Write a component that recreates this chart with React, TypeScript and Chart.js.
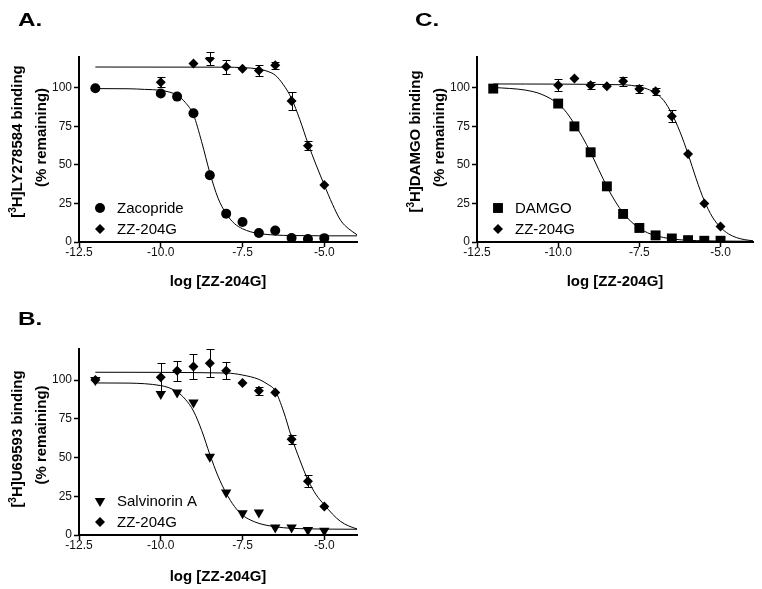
import React, { useEffect, useRef } from 'react';
import { Chart, registerables } from 'chart.js';

Chart.register(...registerables);

const FONT = '"Liberation Sans", Arial, Helvetica, sans-serif';

// ---- shared axis ticks ----
const xTickValues = [-12.5, -10, -7.5, -5];
const yTickValues = [0, 25, 50, 75, 100];
const xAxisTitle = 'log [ZZ-204G]';
const yTitleLine2 = '(% remaining)';

// ---- Panel A: [3H]LY278584 ----
const aZacX = [-12, -10, -9.5, -9, -8.5, -8, -7.5, -7, -6.5, -6, -5.5, -5];
const aZacY = [99.7, 96.3, 94.3, 83.5, 43.3, 18.4, 13, 5.8, 7.5, 2.6, 2, 2.5];
const aZzX = [-10, -9, -8.5, -8, -7.5, -7, -6.5, -6, -5.5, -5];
const aZzY = [103.6, 115.8, 119, 113.6, 112.3, 111.2, 114.7, 91.5, 62.5, 37];
const aZzErr = [3.3, 0, 4.3, 4.5, 0, 3.5, 2.3, 5.8, 2.9, 0];
const aZacCurveX = [-12, -11, -10.5, -10, -9.75, -9.5, -9.25, -9, -8.75, -8.5, -8.25, -8, -7.75, -7.5, -7.25, -7, -6.5, -6, -5, -4];
const aZacCurveY = [99.5, 99.4, 99.0, 98.4, 97.3, 95.3, 90.5, 82.5, 65, 45, 28.5, 18.4, 12, 8.6, 6.6, 5.5, 4.5, 4.2, 4.0, 4.0];
const aZzCurveX = [-12, -8, -7.5, -7, -6.75, -6.5, -6.25, -6, -5.75, -5.5, -5.25, -5, -4.75, -4.5, -4.25, -4];
const aZzCurveY = [113.5, 113.4, 113.1, 112.2, 110.8, 108.2, 102, 93, 79.5, 64, 50, 37, 24.5, 14, 8.5, 4.7];

// ---- Panel B: [3H]U69593 ----
const bSalX = [-12, -10, -9.5, -9, -8.5, -8, -7.5, -7, -6.5, -6, -5.5, -5];
const bSalY = [100, 90.9, 92, 85.5, 50.5, 27.5, 14.1, 14.5, 4.8, 4.8, 3.2, 2.8];
const bZzX = [-12, -10, -9.5, -9, -8.5, -8, -7.5, -7, -6.5, -6, -5.5, -5];
const bZzY = [100, 101.7, 106, 108.7, 110.8, 106, 98.1, 93.1, 92, 61.7, 34.6, 18.4];
const bZzErr = [0, 9, 6.5, 8, 9, 5.5, 0, 2.6, 0, 2.7, 3.8, 0];
const bSalCurveX = [-12, -11, -10, -9.75, -9.5, -9.25, -9, -8.75, -8.5, -8.25, -8, -7.75, -7.5, -7.25, -7, -6.75, -6.5, -6, -5.5, -5, -4];
const bSalCurveY = [98.1, 98, 96.4, 95, 92.3, 87.6, 80, 67.5, 52, 38, 27, 18.5, 12.8, 9.6, 7.5, 6.2, 5.3, 4.3, 4.0, 3.8, 3.7];
const bZzCurveX = [-12, -8, -7.5, -7, -6.75, -6.5, -6.25, -6, -5.75, -5.5, -5.25, -5, -4.75, -4.5, -4.25, -4];
const bZzCurveY = [105, 104.5, 103.2, 100.4, 97.5, 93, 80, 63, 48.5, 35.5, 26, 19.5, 13.5, 8.7, 5.8, 3.9];

// ---- Panel C: [3H]DAMGO ----
const cDamX = [-12, -10, -9.5, -9, -8.5, -8, -7.5, -7, -6.5, -6, -5.5, -5];
const cDamY = [99.5, 89.8, 75, 58.2, 36.1, 18.2, 9.1, 4.3, 2.3, 1.2, 0.8, 0.8];
const cZzX = [-10, -9.5, -9, -8.5, -8, -7.5, -7, -6.5, -6, -5.5, -5];
const cZzY = [101.7, 106, 101.7, 101, 104.3, 99.3, 97.8, 81.6, 57.1, 24.9, 10.1];
const cZzErr = [4, 0, 2.4, 0, 3, 2.4, 2.3, 3.8, 0, 0, 0];
const cDamCurveX = [-12, -11.5, -11, -10.5, -10, -9.75, -9.5, -9.25, -9, -8.75, -8.5, -8.25, -8, -7.75, -7.5, -7.25, -7, -6.5, -6, -5.5, -5, -4.5, -4];
const cDamCurveY = [100.2, 99.6, 98.5, 95.7, 89.6, 84.2, 76.5, 68, 58, 46.9, 36, 26.6, 18.9, 13.1, 8.9, 6.0, 4.1, 2.0, 1.1, 0.8, 0.6, 0.55, 0.5];
const cZzCurveX = [-12, -8, -7.5, -7.25, -7, -6.75, -6.5, -6.25, -6, -5.75, -5.5, -5.25, -5, -4.75, -4.5, -4.25, -4];
const cZzCurveY = [102.5, 102.0, 100.7, 99.2, 96.6, 91.8, 83.2, 71.5, 57.1, 41.0, 26.8, 16.2, 9.5, 5.2, 2.8, 1.5, 0.8];

type Marker = 'circle' | 'square' | 'diamond' | 'triangleDown';

interface SeriesDef {
  label: string;
  marker: Marker;
  xs: number[];
  ys: number[];
  errs?: number[];
  curveX: number[];
  curveY: number[];
}

interface PanelDef {
  letter: string;
  letterLeft: number;
  letterTop: number;
  left: number;
  top: number;
  width: number;
  height: number;
  padRight: number;
  xHeight: number;
  xTitlePad: number;
  radioligand: string; // text after the superscript "[3H]"
  yTitleShift: [number, number];
  series: SeriesDef[];
}

const markerStyle = (m: Marker) => {
  switch (m) {
    case 'circle':
      return { pointStyle: 'circle', pointRadius: 5, pointRotation: 0 };
    case 'square':
      return { pointStyle: 'rect', pointRadius: 7, pointRotation: 0 };
    case 'diamond':
      return { pointStyle: 'rectRot', pointRadius: 5, pointRotation: 0 };
    default:
      return { pointStyle: 'triangle', pointRadius: 6, pointRotation: 180 };
  }
};

function drawMarker(ctx: CanvasRenderingContext2D, m: Marker, x: number, y: number) {
  ctx.beginPath();
  if (m === 'circle') {
    ctx.arc(x, y, 5, 0, Math.PI * 2);
  } else if (m === 'square') {
    const s = 7 * Math.SQRT1_2;
    ctx.rect(x - s, y - s, 2 * s, 2 * s);
  } else if (m === 'diamond') {
    ctx.moveTo(x - 5, y);
    ctx.lineTo(x, y - 5);
    ctx.lineTo(x + 5, y);
    ctx.lineTo(x, y + 5);
    ctx.closePath();
  } else {
    const r = 6;
    ctx.moveTo(x, y + r);
    ctx.lineTo(x - r * Math.sin(Math.PI / 3), y - r / 2);
    ctx.lineTo(x + r * Math.sin(Math.PI / 3), y - r / 2);
    ctx.closePath();
  }
  ctx.fill();
}

const errorBarPlugin = {
  id: 'errorBars',
  afterDatasetsDraw(chart: any) {
    const { ctx } = chart;
    const xS = chart.scales.x;
    const yS = chart.scales.y;
    ctx.save();
    ctx.strokeStyle = '#000';
    ctx.lineWidth = 1;
    chart.data.datasets.forEach((ds: any) => {
      if (!ds.errors) return;
      ds.data.forEach((p: any, i: number) => {
        const e = ds.errors[i];
        if (!e) return;
        const px = Math.round(xS.getPixelForValue(p.x)) + 0.5;
        const yt = Math.round(yS.getPixelForValue(p.y + e)) + 0.5;
        const yb = Math.round(yS.getPixelForValue(p.y - e)) + 0.5;
        ctx.beginPath();
        ctx.moveTo(px, yt);
        ctx.lineTo(px, yb);
        ctx.moveTo(px - 4, yt);
        ctx.lineTo(px + 4, yt);
        ctx.moveTo(px - 4, yb);
        ctx.lineTo(px + 4, yb);
        ctx.stroke();
      });
    });
    ctx.restore();
  },
};

const panelLegendPlugin = {
  id: 'panelLegend',
  afterDraw(chart: any, _args: any, opts: any) {
    const items: { label: string; marker: Marker }[] = opts.items || [];
    const { ctx, chartArea } = chart;
    ctx.save();
    ctx.fillStyle = '#000';
    ctx.font = `15px ${FONT}`;
    ctx.textBaseline = 'middle';
    ctx.textAlign = 'left';
    items.forEach((it, i) => {
      const y = chartArea.bottom - 34 + i * 21;
      drawMarker(ctx, it.marker, chartArea.left + 21, y);
      ctx.fillText(it.label, chartArea.left + 38, y + 1);
    });
    ctx.restore();
  },
};

// y-axis title with a real superscript "3" in "[3H]"
const yTitlePlugin = {
  id: 'yTitle',
  afterDraw(chart: any, _args: any, opts: any) {
    const { ctx, chartArea } = chart;
    const cy = (chartArea.top + chartArea.bottom) / 2;
    const big = `bold 15px ${FONT}`;
    const small = `bold 10px ${FONT}`;
    const pre = '[';
    const sup = '3';
    const post = 'H]' + opts.radioligand + ' binding';
    ctx.save();
    ctx.fillStyle = '#000';
    ctx.textBaseline = 'middle';
    ctx.textAlign = 'left';
    ctx.font = big;
    const w1 = ctx.measureText(pre).width;
    const w3 = ctx.measureText(post).width;
    ctx.font = small;
    const w2 = ctx.measureText(sup).width;
    const total = w1 + w2 + w3;
    // line 1
    ctx.save();
    ctx.translate(18, cy + opts.shift[0]);
    ctx.rotate(-Math.PI / 2);
    let x = -total / 2;
    ctx.font = big;
    ctx.fillText(pre, x, 0);
    x += w1;
    ctx.font = small;
    ctx.fillText(sup, x, -5);
    x += w2;
    ctx.font = big;
    ctx.fillText(post, x, 0);
    ctx.restore();
    // line 2
    ctx.save();
    ctx.translate(42, cy + opts.shift[1]);
    ctx.rotate(-Math.PI / 2);
    ctx.font = big;
    ctx.textAlign = 'center';
    ctx.fillText(yTitleLine2, 0, 0);
    ctx.restore();
    ctx.restore();
  },
};

function buildConfig(p: PanelDef): any {
  const datasets: any[] = [];
  p.series.forEach((s) => {
    datasets.push({
      label: s.label,
      data: s.xs.map((x, i) => ({ x, y: s.ys[i] })),
      errors: s.errs,
      showLine: false,
      backgroundColor: '#000',
      borderColor: '#000',
      pointBorderWidth: 0,
      ...markerStyle(s.marker),
    });
  });
  p.series.forEach((s) => {
    datasets.push({
      label: s.label + ' fit',
      data: s.curveX.map((x, i) => ({ x, y: s.curveY[i] })),
      showLine: true,
      pointRadius: 0,
      borderColor: '#000',
      borderWidth: 1,
      cubicInterpolationMode: 'monotone',
      fill: false,
    });
  });

  return {
    type: 'scatter',
    data: { datasets },
    options: {
      animation: false,
      responsive: false,
      maintainAspectRatio: false,
      devicePixelRatio: 1,
      events: [],
      layout: { padding: { top: 57, right: p.padRight, left: 0, bottom: 0 } },
      plugins: {
        legend: { display: false },
        tooltip: { enabled: false },
        panelLegend: { items: p.series.map((s) => ({ label: s.label, marker: s.marker })) },
        yTitle: { radioligand: p.radioligand, shift: p.yTitleShift },
      },
      scales: {
        x: {
          type: 'linear',
          min: -12.5,
          max: -4,
          afterBuildTicks: (s: any) => {
            s.ticks = xTickValues.map((v) => ({ value: v }));
          },
          afterFit: (s: any) => {
            s.height = p.xHeight;
          },
          border: { color: '#000', width: 2 },
          grid: {
            display: true,
            drawOnChartArea: false,
            drawTicks: true,
            tickLength: 5,
            tickColor: '#000',
            tickWidth: 1.5,
          },
          ticks: {
            color: '#111',
            font: { family: FONT, size: 12 },
            padding: -2,
            maxRotation: 0,
            callback: (v: any) => Number(v).toFixed(1),
          },
          title: {
            display: true,
            text: xAxisTitle,
            color: '#000',
            font: { family: FONT, size: 15, weight: 'bold' },
            padding: { top: 0, bottom: p.xTitlePad },
          },
        },
        y: {
          type: 'linear',
          min: 0,
          max: 120,
          afterBuildTicks: (s: any) => {
            s.ticks = yTickValues.map((v) => ({ value: v }));
          },
          afterFit: (s: any) => {
            s.width = 79;
          },
          border: { color: '#000', width: 2 },
          grid: {
            display: true,
            drawOnChartArea: false,
            drawTicks: true,
            tickLength: 5,
            tickColor: '#000',
            tickWidth: 1.5,
          },
          ticks: {
            color: '#111',
            font: { family: FONT, size: 12 },
            padding: 2,
            callback: (v: any) => String(v),
          },
        },
      },
    },
    plugins: [errorBarPlugin, panelLegendPlugin, yTitlePlugin],
  };
}

const panels: PanelDef[] = [
  {
    letter: 'A.',
    letterLeft: 18,
    letterTop: 11,
    left: 0,
    top: 0,
    width: 380,
    height: 300,
    padRight: 23,
    xHeight: 58,
    xTitlePad: 9,
    radioligand: 'LY278584',
    yTitleShift: [-8, -12],
    series: [
      { label: 'Zacopride', marker: 'circle', xs: aZacX, ys: aZacY, curveX: aZacCurveX, curveY: aZacCurveY },
      { label: 'ZZ-204G', marker: 'diamond', xs: aZzX, ys: aZzY, errs: aZzErr, curveX: aZzCurveX, curveY: aZzCurveY },
    ],
  },
  {
    letter: 'C.',
    letterLeft: 415,
    letterTop: 11,
    left: 398,
    top: 0,
    width: 364,
    height: 300,
    padRight: 9,
    xHeight: 58,
    xTitlePad: 9,
    radioligand: 'DAMGO',
    yTitleShift: [-8, -12],
    series: [
      { label: 'DAMGO', marker: 'square', xs: cDamX, ys: cDamY, curveX: cDamCurveX, curveY: cDamCurveY },
      { label: 'ZZ-204G', marker: 'diamond', xs: cZzX, ys: cZzY, errs: cZzErr, curveX: cZzCurveX, curveY: cZzCurveY },
    ],
  },
  {
    letter: 'B.',
    letterLeft: 18,
    letterTop: 310,
    left: 0,
    top: 292,
    width: 380,
    height: 297,
    padRight: 23,
    xHeight: 54,
    xTitlePad: 3,
    radioligand: 'U69593',
    yTitleShift: [-3, -7],
    series: [
      { label: 'Salvinorin A', marker: 'triangleDown', xs: bSalX, ys: bSalY, curveX: bSalCurveX, curveY: bSalCurveY },
      { label: 'ZZ-204G', marker: 'diamond', xs: bZzX, ys: bZzY, errs: bZzErr, curveX: bZzCurveX, curveY: bZzCurveY },
    ],
  },
];

function Panel({ def }: { def: PanelDef }) {
  const ref = useRef<HTMLCanvasElement>(null);
  useEffect(() => {
    const chart = new Chart(ref.current as HTMLCanvasElement, buildConfig(def));
    return () => chart.destroy();
  }, [def]);
  return (
    <canvas
      ref={ref}
      width={def.width}
      height={def.height}
      style={{ position: 'absolute', left: def.left, top: def.top, width: def.width, height: def.height }}
    />
  );
}

export default function App() {
  return (
    <div
      style={{
        position: 'absolute',
        left: 0,
        top: 0,
        width: 762,
        height: 589,
        overflow: 'hidden',
        background: '#fff',
      }}
    >
      {panels.map((p) => (
        <Panel key={p.letter} def={p} />
      ))}
      {panels.map((p) => (
        <div
          key={'L' + p.letter}
          style={{
            position: 'absolute',
            left: p.letterLeft,
            top: p.letterTop,
            fontFamily: FONT,
            fontWeight: 'bold',
            fontSize: 18,
            lineHeight: '18px',
            transform: 'scaleX(1.35)',
            transformOrigin: 'left top',
            color: '#000',
          }}
        >
          {p.letter}
        </div>
      ))}
    </div>
  );
}
